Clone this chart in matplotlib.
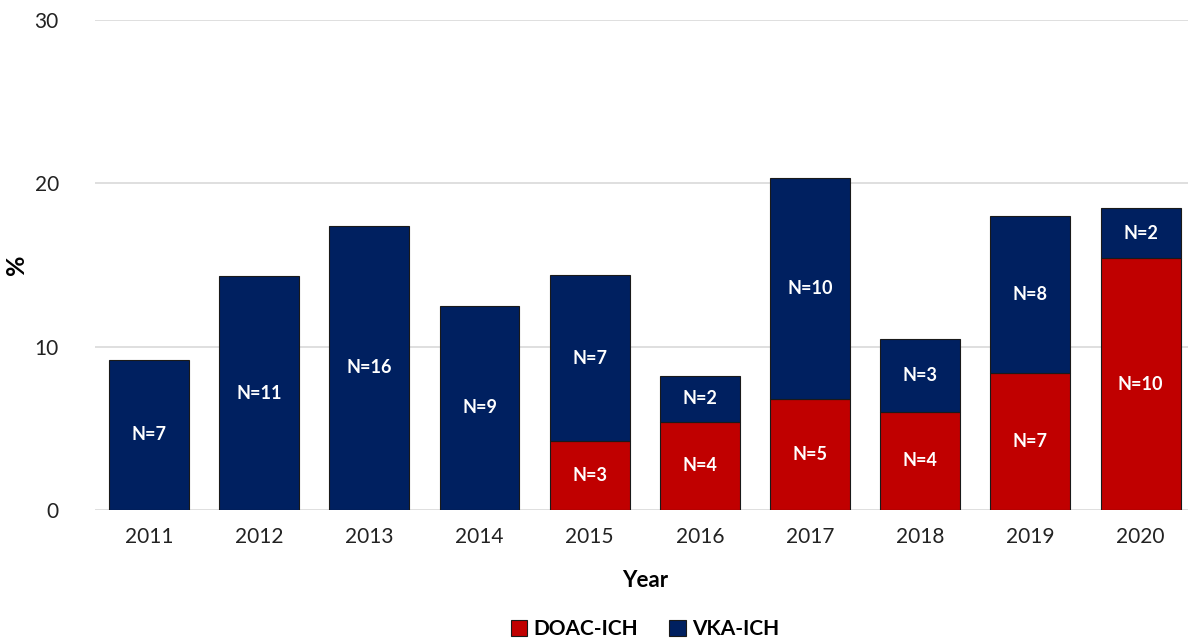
import matplotlib
matplotlib.use("Agg")
import matplotlib.pyplot as plt
from matplotlib.patches import Patch
import numpy as np

plt.rcParams['font.family'] = ['Lato', 'DejaVu Sans']

years = ['2011', '2012', '2013', '2014', '2015', '2016', '2017', '2018', '2019', '2020']
doac_pct = [0, 0, 0, 0, 4.2, 5.4, 6.8, 6.0, 8.4, 15.4]
total_pct = [9.2, 14.3, 17.4, 12.5, 14.4, 8.2, 20.3, 10.5, 18.0, 18.5]
vka_pct = [t - d for t, d in zip(total_pct, doac_pct)]
doac_n = [0, 0, 0, 0, 3, 4, 5, 4, 7, 10]
vka_n = [7, 11, 16, 9, 7, 2, 10, 3, 8, 2]

red = '#C00000'
navy = '#002060'

fig = plt.figure(figsize=(11.88, 6.4), dpi=100)
ax = fig.add_axes([95/1188, 1-510/640, (1194.5-95)/1188, (510-20)/640])

x = np.arange(len(years))
w = 0.726
doac_x = [xi for xi, d in zip(x, doac_pct) if d > 0]
doac_h = [d for d in doac_pct if d > 0]
ax.bar(doac_x, doac_h, w, color=red, edgecolor='#1a1a1a', linewidth=0.8, zorder=3)
ax.bar(x, vka_pct, w, bottom=doac_pct, color=navy, edgecolor='#1a1a1a', linewidth=0.8, zorder=3)

for i in range(len(years)):
    if doac_n[i] > 0:
        ax.text(x[i], doac_pct[i]/2, f'N={doac_n[i]}', ha='center', va='center',
                color='white', fontsize=13, fontweight='bold', zorder=4)
    ax.text(x[i], doac_pct[i] + vka_pct[i]/2, f'N={vka_n[i]}', ha='center', va='center',
            color='white', fontsize=13, fontweight='bold', zorder=4)

ax.set_ylim(0, 30)
ax.set_yticks([0, 10, 20, 30])
ax.set_xlim(-0.49, 9.49)
ax.set_xticks(x)
ax.set_xticklabels(years)
ax.tick_params(axis='both', length=0, labelsize=15, colors='#222222')
ax.tick_params(axis='x', pad=12)
ax.tick_params(axis='y', pad=26)
ax.yaxis.grid(True, color='#d9d9d9', linewidth=1.2, zorder=0)
for s in ax.spines.values():
    s.set_visible(False)

ax.set_xlabel('Year', fontsize=16, fontweight='bold', labelpad=17)
ax.set_ylabel('%', fontsize=18, fontweight='bold')
ax.yaxis.set_label_coords(-(95-28)/(1194.5-95), 0.5)

handles = [Patch(facecolor=red, edgecolor='#1a1a1a', linewidth=0.8),
           Patch(facecolor=navy, edgecolor='#1a1a1a', linewidth=0.8)]
fig.legend(handles=handles, labels=['DOAC-ICH', 'VKA-ICH'], loc='center',
           bbox_to_anchor=(645/1188, 1-629/640), ncol=2, frameon=False,
           prop={'size': 15, 'weight': 'bold'}, handlelength=0.8, handleheight=0.8,
           handletextpad=0.3, columnspacing=1.5)

fig.savefig('out.png', dpi=100)
